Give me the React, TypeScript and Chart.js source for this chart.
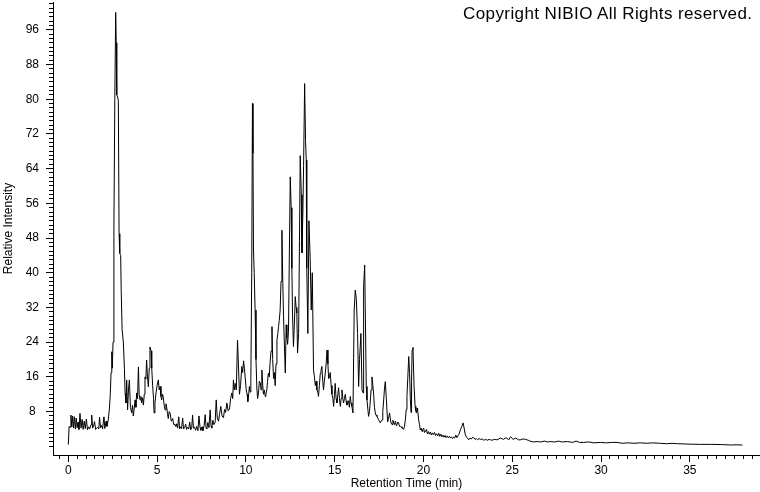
import React, { useEffect, useRef } from "react";
import { Chart, registerables } from "chart.js";

Chart.register(...registerables);

// Retention time (min)
const retentionTimes: number[] = [
  0.0, 0.05, 0.1, 0.15, 0.2, 0.25, 0.3, 0.35, 0.4, 0.45, 0.5, 0.55, 0.6, 0.66, 0.72, 0.78, 0.84, 0.9, 0.96, 1.02,
  1.08, 1.14, 1.2, 1.28, 1.32, 1.37, 1.42, 1.48, 1.54, 1.6, 1.66, 1.72, 1.76, 1.82, 1.88, 1.93, 2.01, 2.06, 2.13, 2.18,
  2.25, 2.31, 2.36, 2.41, 2.45, 2.48, 2.52, 2.57, 2.62, 2.67, 2.7, 2.73, 2.78, 2.82, 2.86, 2.9, 2.95, 2.98, 3.03, 3.1,
  3.16, 3.2, 3.25, 3.29, 3.34, 3.39, 3.44, 3.5, 3.57, 3.62, 3.66, 3.71, 3.76, 3.81, 3.85, 3.9, 3.95, 3.99, 4.04, 4.09,
  4.13, 4.18, 4.23, 4.28, 4.32, 4.37, 4.41, 4.46, 4.51, 4.56, 4.6, 4.66, 4.7, 4.75, 4.8, 4.83, 4.88, 4.94, 5.0, 5.07,
  5.12, 5.17, 5.22, 5.26, 5.31, 5.35, 5.4, 5.45, 5.5, 5.54, 5.59, 5.63, 5.68, 5.73, 5.8, 5.88, 5.94, 6.01, 6.06, 6.11,
  6.16, 6.22, 6.27, 6.33, 6.38, 6.44, 6.49, 6.55, 6.61, 6.66, 6.72, 6.78, 6.84, 6.89, 6.95, 7.0, 7.05, 7.11, 7.17, 7.23,
  7.3, 7.36, 7.42, 7.47, 7.53, 7.58, 7.65, 7.71, 7.76, 7.8, 7.86, 7.92, 7.99, 8.04, 8.08, 8.14, 8.2, 8.27, 8.33, 8.39,
  8.46, 8.52, 8.59, 8.66, 8.74, 8.8, 8.86, 8.93, 9.0, 9.08, 9.14, 9.21, 9.26, 9.3, 9.35, 9.4, 9.46, 9.53, 9.58, 9.64,
  9.7, 9.77, 9.82, 9.87, 9.92, 9.96, 10.02, 10.07, 10.11, 10.16, 10.2, 10.24, 10.28, 10.33, 10.37, 10.4, 10.43, 10.47, 10.52, 10.57,
  10.62, 10.66, 10.71, 10.76, 10.81, 10.86, 10.9, 10.95, 10.99, 11.04, 11.09, 11.13, 11.18, 11.22, 11.27, 11.32, 11.36, 11.42, 11.47, 11.51,
  11.56, 11.61, 11.65, 11.7, 11.75, 11.8, 11.84, 11.88, 11.93, 11.98, 12.03, 12.08, 12.12, 12.16, 12.22, 12.27, 12.31, 12.35, 12.4, 12.45,
  12.5, 12.55, 12.59, 12.63, 12.68, 12.73, 12.78, 12.83, 12.87, 12.91, 12.97, 13.02, 13.06, 13.12, 13.16, 13.21, 13.25, 13.31, 13.36, 13.4,
  13.43, 13.49, 13.55, 13.62, 13.68, 13.74, 13.81, 13.86, 13.91, 13.96, 14.0, 14.05, 14.09, 14.14, 14.19, 14.23, 14.28, 14.33, 14.37, 14.42,
  14.47, 14.52, 14.57, 14.62, 14.66, 14.71, 14.75, 14.8, 14.85, 14.9, 14.94, 14.99, 15.03, 15.08, 15.13, 15.18, 15.22, 15.27, 15.32, 15.36,
  15.41, 15.46, 15.5, 15.55, 15.6, 15.64, 15.69, 15.74, 15.78, 15.83, 15.88, 15.92, 15.97, 16.03, 16.1, 16.16, 16.22, 16.29, 16.35, 16.4,
  16.48, 16.54, 16.6, 16.63, 16.69, 16.72, 16.78, 16.82, 16.87, 16.91, 16.96, 17.01, 17.05, 17.1, 17.15, 17.19, 17.24, 17.29, 17.33, 17.38,
  17.43, 17.47, 17.52, 17.57, 17.62, 17.67, 17.71, 17.76, 17.8, 17.85, 17.91, 17.98, 18.03, 18.09, 18.16, 18.23, 18.28, 18.32, 18.37, 18.42,
  18.47, 18.51, 18.56, 18.6, 18.65, 18.7, 18.75, 18.79, 18.84, 18.88, 18.93, 18.98, 19.03, 19.07, 19.12, 19.17, 19.22, 19.26, 19.3, 19.33,
  19.36, 19.41, 19.47, 19.53, 19.57, 19.6, 19.64, 19.67, 19.73, 19.78, 19.82, 19.87, 19.92, 19.96, 20.01, 20.06, 20.11, 20.17, 20.22, 20.28,
  20.33, 20.39, 20.45, 20.5, 20.56, 20.62, 20.68, 20.74, 20.8, 20.86, 20.92, 20.98, 21.04, 21.1, 21.16, 21.22, 21.28, 21.34, 21.4, 21.46,
  21.52, 21.58, 21.64, 21.7, 21.76, 21.82, 21.88, 21.94, 22.0, 22.08, 22.16, 22.23, 22.3, 22.36, 22.45, 22.55, 22.62, 22.7, 22.77, 22.83,
  22.9, 22.98, 23.05, 23.13, 23.21, 23.3, 23.4, 23.5, 23.6, 23.7, 23.77, 23.85, 24.0, 24.15, 24.34, 24.5, 24.65, 24.8, 24.9, 25.05,
  25.2, 25.35, 25.46, 25.6, 25.75, 25.9, 26.0, 26.2, 26.4, 26.6, 26.8, 27.0, 27.15, 27.4, 27.6, 27.8, 28.1, 28.4, 28.6, 28.8,
  29.0, 29.3, 29.6, 29.97, 30.3, 30.6, 30.9, 31.2, 31.5, 31.85, 32.2, 32.6, 32.9, 33.3, 33.7, 34.0, 34.3, 34.66, 35.0, 35.6,
  36.2, 36.8, 37.3, 37.6, 37.96,
];

// Relative intensity (%)
const relativeIntensity: number[] = [
  0.4, 4.6, 4.4, 7.2, 4.5, 7.0, 4.2, 6.8, 4.0, 6.5, 4.3, 5.6, 3.9, 7.6, 4.2, 6.2, 3.9, 5.8, 4.1, 6.3,
  3.8, 4.5, 4.0, 5.0, 7.2, 4.2, 4.6, 5.7, 3.9, 4.2, 4.4, 4.0, 6.7, 4.3, 4.8, 4.0, 6.8, 4.1, 5.8, 4.6,
  6.1, 8.4, 11.5, 17, 21.8, 18, 24, 50.6, 80, 100, 93, 81, 80.5, 79.5, 49, 44.5, 44, 36, 27, 24,
  18, 12.3, 10, 15.3, 8.4, 13, 15.3, 9, 7.7, 9.5, 7.0, 8.5, 10.7, 9, 12.3, 11, 18.3, 12, 10.7, 11.5,
  10, 11.2, 9.5, 12, 16, 15.5, 19.9, 16, 13.7, 18, 22.9, 22, 18, 14, 11, 7.7, 10, 12.3, 14, 15.3,
  13, 13.8, 11.5, 10.7, 12, 11.3, 9.5, 8.4, 9.8, 9, 7.5, 6.4, 8, 7.7, 5.8, 6.4, 5.0, 5.0, 4.6, 5.2,
  4.2, 6.8, 4.0, 4.5, 4.1, 6.5, 4.0, 4.3, 5.1, 3.9, 4.4, 4.0, 5.6, 3.8, 4.2, 7.2, 4.2, 4.4, 3.7, 4.6,
  3.6, 7.0, 4.3, 3.7, 4.5, 3.6, 4.8, 7.3, 4.2, 4.0, 5.5, 4.3, 8.4, 4.6, 4.2, 6.0, 5.0, 5.5, 10.7, 6.5,
  5.8, 7.5, 9.2, 7.0, 6.6, 8.5, 7.8, 10, 8.2, 8.6, 11, 12.3, 11, 15.3, 13, 14.5, 13, 24.5, 19, 12,
  14, 18.4, 17, 19.7, 18, 16, 13, 12, 10.3, 12, 13.8, 12.5, 15, 40, 79, 67.5, 45, 40, 31.4, 20,
  13.2, 11, 12.3, 15, 14.6, 13, 17.6, 14, 12, 13, 11.5, 12, 13, 15, 16.9, 16, 19.1, 22, 27.6, 20,
  15.6, 17, 14, 19, 24.5, 26, 27.6, 29, 31.4, 38, 49.8, 37.7, 30, 24.5, 16.9, 28, 25, 23.5, 26.5, 45,
  62.1, 55, 41, 30, 23, 28, 34.5, 32, 30.7, 21.5, 26, 47.5, 67, 58, 44.6, 54, 64.7, 83.6, 70.5, 66,
  41, 26, 52, 43.6, 31.4, 40, 17.6, 16, 14, 15, 13, 12.5, 11.5, 14, 16.8, 17.5, 18.4, 15, 13, 15,
  16.9, 19, 22.2, 19, 15.6, 16, 17, 14, 12, 11, 9.2, 12, 14.5, 11, 10, 12, 13.5, 11, 9.2, 11,
  13, 11, 10, 11, 12, 10.5, 9.5, 10, 10.5, 9, 11.5, 10, 9.2, 7.7, 31.4, 36, 34, 26, 13.8, 20,
  26, 13, 12.3, 36.8, 41.8, 32.4, 13.8, 10.7, 8.5, 6.9, 8, 10.7, 13, 16, 14, 12.3, 9, 7.7, 7.2, 6.9,
  6.5, 6.1, 5.8, 5.4, 5.8, 6.1, 8, 10.7, 13, 14.9, 11, 5.6, 6.4, 7.7, 5.6, 5.0, 6.0, 5.4, 5.0, 5.8,
  4.8, 5.0, 5.6, 5.4, 4.6, 4.6, 4.5, 4.2, 4.0, 3.9, 4.5, 6.1, 8.5, 11.5, 16, 20.7, 16.8, 11, 7.8, 15,
  22.2, 22.8, 13.8, 9.2, 8.2, 7.7, 8.8, 8.4, 6.1, 5.0, 3.8, 4.2, 3.4, 3.9, 4.2, 3.2, 3.4, 3.9, 2.9, 3.4,
  2.8, 3.3, 2.6, 3.1, 2.7, 3.2, 2.5, 2.9, 2.4, 3.0, 2.3, 2.8, 2.2, 2.6, 2.1, 2.5, 2.0, 2.4, 2.0, 2.3,
  1.9, 2.2, 1.8, 2.1, 1.9, 2.6, 2.0, 2.4, 2.8, 3.8, 4.6, 5.4, 4.0, 2.6, 2.0, 1.5, 1.9, 1.7, 2.1, 2.0,
  1.6, 1.8, 1.5, 1.8, 1.6, 1.7, 1.4, 1.6, 1.4, 1.6, 1.5, 1.4, 1.6, 1.5, 1.9, 1.6, 2.0, 1.5, 2.2, 1.6,
  1.9, 1.5, 1.5, 1.7, 1.6, 1.4, 1.2, 1.0, 1.1, 1.0, 1.2, 1.0, 1.1, 1.0, 1.2, 1.0, 1.1, 0.9, 1.2, 0.9,
  0.9, 1.0, 0.8, 0.9, 0.8, 0.9, 0.9, 0.7, 0.8, 0.7, 0.8, 0.7, 0.8, 0.7, 0.6, 0.7, 0.6, 0.55, 0.5, 0.45,
  0.45, 0.4, 0.3, 0.35, 0.3,
];

const xMajorTicks: number[] = [0, 5, 10, 15, 20, 25, 30, 35];
const yMajorTicks: number[] = [8, 16, 24, 32, 40, 48, 56, 64, 72, 80, 88, 96];
const xTitle = "Retention Time (min)";
const yTitle = "Relative Intensity";
const copyrightText = "Copyright NIBIO All Rights reserved.";

const X_MIN = -0.86;
const X_MAX = 38.95;
const Y_MIN = -2;
const Y_MAX = 102.4;

const FONT_FAMILY = "'Liberation Sans', Arial, Helvetica, sans-serif";

function zeroPadding(s: any) {
  s.paddingTop = 0;
  s.paddingBottom = 0;
  s.paddingLeft = 0;
  s.paddingRight = 0;
}

export default function App() {
  const canvasRef = useRef<HTMLCanvasElement>(null);

  useEffect(() => {
    const canvas = canvasRef.current;
    if (!canvas) return;
    const font = { family: FONT_FAMILY, size: 12 };
    const points = retentionTimes.map((t, i) => ({ x: t, y: relativeIntensity[i] }));

    const chart = new Chart(canvas, {
      type: "line",
      data: {
        datasets: [
          {
            data: points,
            borderColor: "#000000",
            borderWidth: 1,
            pointRadius: 0,
            tension: 0,
            fill: false,
          },
        ],
      },
      options: {
        animation: false,
        responsive: false,
        maintainAspectRatio: false,
        events: [],
        layout: { padding: { top: 2, left: 0, right: 0, bottom: 0 }, autoPadding: false },
        plugins: { legend: { display: false }, tooltip: { enabled: false }, title: { display: false } },
        scales: {
          x: {
            type: "linear",
            position: "bottom",
            weight: 1,
            min: X_MIN,
            max: X_MAX,
            afterBuildTicks: (s: any) => {
              s.ticks = xMajorTicks.map((v) => ({ value: v }));
            },
            afterFit: (s: any) => {
              s.height = 37;
              zeroPadding(s);
            },
            grid: { drawOnChartArea: false, tickLength: 7, color: "#000", tickColor: "#000", tickWidth: 1 },
            border: { display: true, color: "#000", width: 1 },
            ticks: {
              color: "#000",
              font,
              padding: 1.5,
              maxRotation: 0,
              autoSkip: false,
              callback: (v: any) => String(v),
            },
            title: { display: true, text: xTitle, color: "#000", font, padding: { top: 0, bottom: 1.6 } },
          },
          x2: {
            type: "linear",
            position: "bottom",
            weight: 0,
            min: X_MIN,
            max: X_MAX,
            ticks: { stepSize: 0.5, includeBounds: false, autoSkip: false, callback: () => "", font },
            afterFit: (s: any) => {
              s.height = 0;
              zeroPadding(s);
            },
            grid: { drawOnChartArea: false, tickLength: 4, color: "#000", tickColor: "#000", tickWidth: 1 },
            border: { display: false },
          },
          y: {
            type: "linear",
            position: "left",
            weight: 1,
            min: Y_MIN,
            max: Y_MAX,
            afterBuildTicks: (s: any) => {
              s.ticks = yMajorTicks.map((v) => ({ value: v }));
            },
            afterFit: (s: any) => {
              s.width = 53;
              zeroPadding(s);
            },
            grid: { drawOnChartArea: false, tickLength: 7, color: "#000", tickColor: "#000", tickWidth: 1 },
            border: { display: true, color: "#000", width: 1 },
            ticks: {
              color: "#000",
              font,
              padding: 7,
              crossAlign: "center",
              autoSkip: false,
              callback: (v: any) => String(v),
            },
            title: { display: true, text: yTitle, color: "#000", font, padding: { top: 1.8, bottom: 0 } },
          },
          y2: {
            type: "linear",
            position: "left",
            weight: 0,
            min: Y_MIN,
            max: Y_MAX,
            ticks: { stepSize: 1, includeBounds: false, autoSkip: false, callback: () => "", font },
            afterBuildTicks: (s: any) => {
              s.ticks = s.ticks.filter((t: any) => t.value >= 0);
            },
            afterFit: (s: any) => {
              s.width = 0;
              zeroPadding(s);
            },
            grid: { drawOnChartArea: false, tickLength: 4, color: "#000", tickColor: "#000", tickWidth: 1 },
            border: { display: false },
          },
        },
      } as any,
    });

    return () => chart.destroy();
  }, []);

  return (
    <div style={{ position: "absolute", left: 0, top: 0, width: 760, height: 492, background: "#fff" }}>
      <canvas ref={canvasRef} width={760} height={492} style={{ display: "block", width: 760, height: 492 }} />
      <div
        style={{
          position: "absolute",
          right: 7.6,
          top: 4.5,
          fontFamily: FONT_FAMILY,
          fontSize: 17,
          lineHeight: "17px",
          letterSpacing: "0.4px",
          color: "#000",
          whiteSpace: "nowrap",
        }}
      >
        {copyrightText}
      </div>
    </div>
  );
}
